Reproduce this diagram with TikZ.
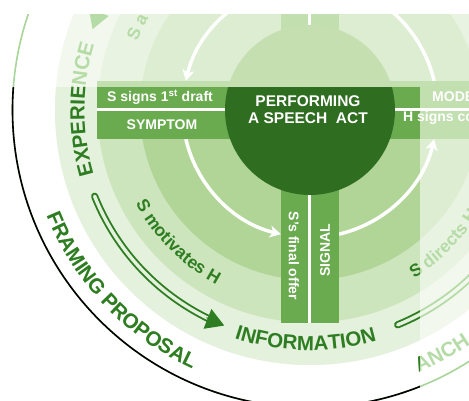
\documentclass[tikz,border=0pt]{standalone}
\usepackage{fontspec}
\setmainfont{Liberation Sans}
\usetikzlibrary{arrows.meta, decorations.text}

% full colours (lower left part)
\definecolor{fullA}{HTML}{B1D597}
\definecolor{fullB}{HTML}{CDE5BC}
\definecolor{fullC}{HTML}{E4F1DC}
\definecolor{fullBand}{HTML}{6BAB50}
\definecolor{fullCore}{HTML}{2F6D20}
\definecolor{fullInk}{HTML}{2E7D22}
% faded colours (the rest)
\definecolor{fadeA}{HTML}{DCEDD1}
\definecolor{fadeB}{HTML}{E8F3E1}
\definecolor{fadeC}{HTML}{F2F8EE}
\definecolor{fadeBand}{HTML}{C2DFB0}
\definecolor{fadeCore}{HTML}{C6DFB1}
\definecolor{fadeInk}{HTML}{B5DBA6}
\definecolor{fadeRim}{HTML}{A8D598}

\newcommand{\fullpalette}{%
  \colorlet{ringA}{fullA}\colorlet{ringB}{fullB}\colorlet{ringC}{fullC}%
  \colorlet{band}{fullBand}\colorlet{core}{fullCore}\colorlet{ink}{fullInk}%
  \colorlet{rim}{black}}
\newcommand{\fadedpalette}{%
  \colorlet{ringA}{fadeA}\colorlet{ringB}{fadeB}\colorlet{ringC}{fadeC}%
  \colorlet{band}{fadeBand}\colorlet{core}{fadeCore}\colorlet{ink}{fadeInk}%
  \colorlet{rim}{fadeRim}}

\newcommand{\ringfont}{\fontsize{20.5}{20.5}\selectfont\bfseries}
\newcommand{\agentfont}{\fontsize{17.5}{17.5}\selectfont\bfseries}

\tikzset{
  cyclearrow/.style={white, line width=3.5pt, -{Stealth[length=11pt,width=12pt,inset=3pt]}},
  twin/.style={draw=ink, double=ringC, double distance=3.4pt, line width=1.9pt, line cap=round},
  twinhead/.style={ink, line width=1pt, -{Triangle[length=18pt,width=21pt]}},
  bandtext/.style={white, font=\fontsize{14}{14}\selectfont\bfseries, inner sep=0pt},
  coretext/.style={white, align=center, font=\fontsize{15.5}{17.5}\selectfont\bfseries, inner sep=0pt},
}

\newcommand{\speechwheel}{%
  % rings
  \fill[ringC] (0,0) circle[radius=255];
  \fill[ringB] (0,0) circle[radius=212.5];
  \fill[ringA] (0,0) circle[radius=170];
  \draw[rim, line width=1.6pt] (0,0) circle[radius=297.5];
  % cycle arrows
  \foreach \a in {0,90,180,270}
    \draw[cyclearrow] (\a+13.2:127.5) arc[start angle=\a+13.2, end angle=\a+76.8, radius=127.5];
  % cross
  \fill[white] (-213,-29) rectangle (213,29);
  \fill[white] (-29,-213) rectangle (29,213);
  \fill[band] (-213,1.5) rectangle (213,29);
  \fill[band] (-213,-1.5) rectangle (213,-29);
  \fill[band] (-29,-213) rectangle (-1.5,213);
  \fill[band] (1.5,-213) rectangle (29,213);
  % core
  \fill[core] (0,0) circle[radius=85];
  \node[coretext] (act) at (-2,0.3) {PERFORMING\\A SPEECH\ \ ACT};
  \node[bandtext, anchor=base] (draft) at (-150,8) {S signs 1\textsuperscript{st} draft};
  \node[bandtext, anchor=base] (symptom) at (-148,-20) {SYMPTOM};
  \node[bandtext, anchor=base west] (model) at (122,8) {MODE};
  \node[bandtext, anchor=base west] (counter) at (93,-12) {H signs co};
  \node[bandtext, rotate=-90] (offer) at (-16,-146) {S's final offer};
  \node[bandtext, rotate=90] (signal) at (15,-140) {SIGNAL};
  % agent labels
  \path[decorate, decoration={text along path, text align=center,
      text={|\agentfont\color{ink}|S motivates H}}]
    (185:198) arc[start angle=185, end angle=265, radius=198];
  \path[decorate, decoration={text along path, text align=center,
      text={|\agentfont\color{ink}|S directs H}}]
    (275:198) arc[start angle=275, end angle=355, radius=198];
  \path[decorate, decoration={text along path, text align=left,
      text={|\agentfont\color{ink}|S a}}]
    (158.3:186) arc[start angle=158.3, end angle=120, radius=186];
  % stage labels
  \path[decorate, decoration={text along path, text align=center,
      text={|\ringfont\color{ink}|EXPERIENCE}}]
    (219.75:225.5) arc[start angle=219.75, end angle=139.75, radius=225.5];
  \path[decorate, decoration={text along path, text align=center,
      text={|\ringfont\color{ink}|INFORMATION}}]
    (228.9:240.5) arc[start angle=228.9, end angle=308.9, radius=240.5];
  \path[decorate, decoration={text along path, text align=center,
      text={|\ringfont\color{ink}|FRAMING PROPOSAL}}]
    (183.7:284) arc[start angle=183.7, end angle=263.7, radius=284];
  \path[decorate, decoration={text along path, text align=left,
      text={|\ringfont\color{ink}|ANCH}}]
    (292.5:284) arc[start angle=292.5, end angle=330, radius=284];
  % double arrows between stages
  \draw[twin] (201.8:232) arc[start angle=201.8, end angle=244, radius=232];
  \draw[twinhead] (243.5:232) arc[start angle=243.5, end angle=248.3, radius=232];
  \draw[twin] (292.2:232) arc[start angle=292.2, end angle=345, radius=232];
  \draw[twin] (110:232) arc[start angle=110, end angle=155.5, radius=232];
  \draw[twinhead] (155:232) arc[start angle=155, end angle=159.6, radius=232];
}

\begin{document}
\begin{tikzpicture}[x=1pt, y=1pt]
  \useasboundingbox (-310,-291) rectangle (159,110);
  \fill[white] (-310,-291) rectangle (159,110);
  % faded wheel
  \begin{scope}
    \clip (-310,-291) rectangle (159,95);
    \fadedpalette
    \speechwheel
  \end{scope}
  % highlighted quarter
  \begin{scope}
    \clip (-310,-291) rectangle (110,22);
    \fullpalette
    \speechwheel
  \end{scope}
\end{tikzpicture}
\end{document}
